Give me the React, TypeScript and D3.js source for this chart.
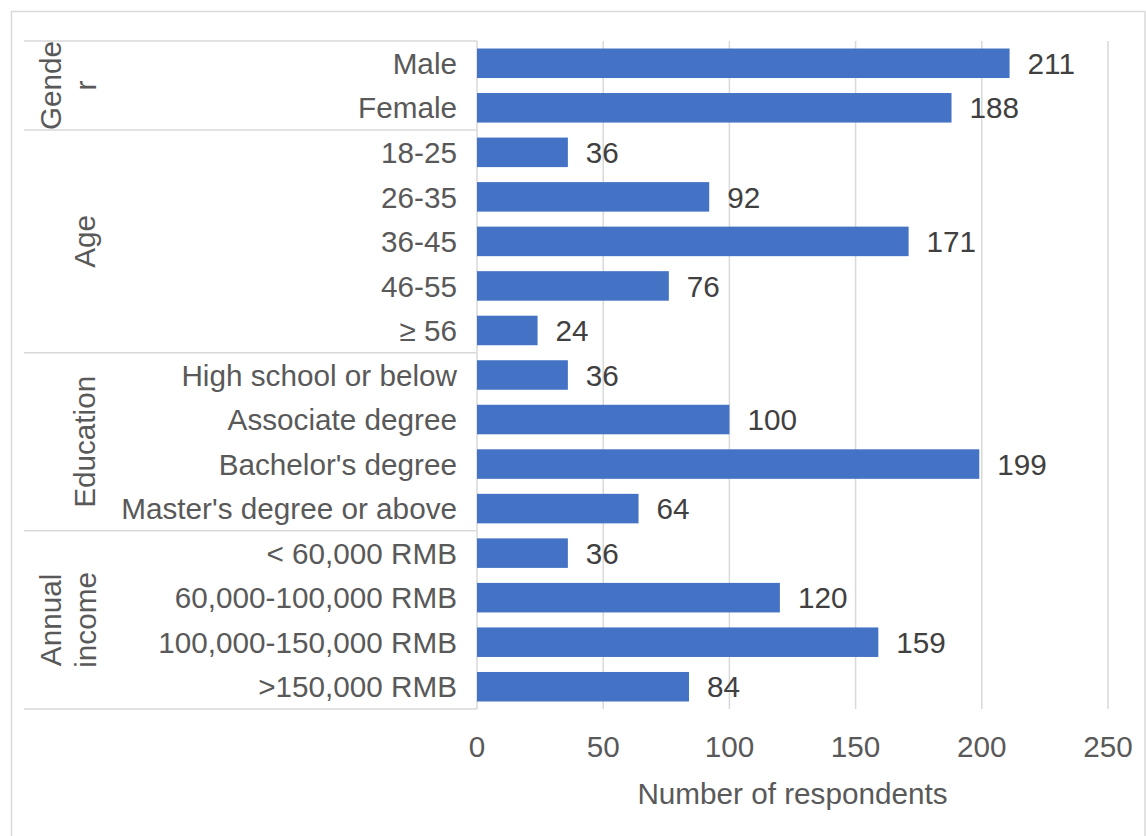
import React from "react";
import * as d3 from "d3";

// Respondent profile, grouped by demographic dimension
const genderLabels = ["Male", "Female"];
const genderValues = [211, 188];

const ageLabels = ["18-25", "26-35", "36-45", "46-55", "≥ 56"];
const ageValues = [36, 92, 171, 76, 24];

const educationLabels = [
  "High school or below",
  "Associate degree",
  "Bachelor's degree",
  "Master's degree or above",
];
const educationValues = [36, 100, 199, 64];

const incomeLabels = [
  "< 60,000 RMB",
  "60,000-100,000 RMB",
  "100,000-150,000 RMB",
  ">150,000 RMB",
];
const incomeValues = [36, 120, 159, 84];

// Group titles (split into the lines they wrap onto)
const groupTitles = [["Gende", "r"], ["Age"], ["Education"], ["Annual", "income"]];

const xTicks = [0, 50, 100, 150, 200, 250];
const xTitle = "Number of respondents";

const groups = [
  { title: groupTitles[0], labels: genderLabels, values: genderValues },
  { title: groupTitles[1], labels: ageLabels, values: ageValues },
  { title: groupTitles[2], labels: educationLabels, values: educationValues },
  { title: groupTitles[3], labels: incomeLabels, values: incomeValues },
];

const rows = groups.flatMap((g, gi) =>
  g.labels.map((label, i) => ({ label, value: g.values[i], group: gi }))
);

const W = 1146;
const H = 836;
const FONT = "'Liberation Sans', Arial, Helvetica, sans-serif";
const FS = 29.7;
const BAR = "#4472C4";
const GRID = "#d9d9d9";
const LABEL = "#595959";
const VALUE = "#404040";

export default function App() {
  const plotLeft = 477;
  const plotRight = 1108;
  const plotTop = 41;
  const plotBottom = 709;
  const tableLeft = 24;

  const x = d3.scaleLinear().domain([0, 250]).range([plotLeft, plotRight]);
  const pad = 0.337;
  const y = d3
    .scaleBand<string>()
    .domain(rows.map((r) => r.label))
    .range([plotTop, plotBottom])
    .paddingInner(pad)
    .paddingOuter(pad / 2);
  const step = y.step();

  // group boundaries (row-edge positions)
  let idx = 0;
  const groupSpans = groups.map((g) => {
    const start = plotTop + idx * step;
    idx += g.labels.length;
    const end = plotTop + idx * step;
    return { ...g, start, end };
  });

  return (
    <svg
      width={W}
      height={H}
      style={{ position: "absolute", left: 0, top: 0, background: "#fff" }}
      fontFamily={FONT}
    >
      <rect x={0} y={0} width={W} height={H} fill="#fff" />
      {/* chart frame */}
      <rect x={11.5} y={11.5} width={1133.5} height={840} fill="none" stroke={GRID} strokeWidth={1.5} />

      {/* vertical gridlines */}
      {xTicks.map((t) => (
        <line
          key={"g" + t}
          x1={x(t)}
          x2={x(t)}
          y1={plotTop}
          y2={plotBottom}
          stroke={GRID}
          strokeWidth={1.5}
        />
      ))}

      {/* category table lines */}
      {groupSpans.map((g, i) => (
        <line
          key={"s" + i}
          x1={tableLeft}
          x2={plotLeft}
          y1={g.start}
          y2={g.start}
          stroke={GRID}
          strokeWidth={1.5}
        />
      ))}
      <line
        x1={tableLeft}
        x2={plotLeft}
        y1={plotBottom}
        y2={plotBottom}
        stroke={GRID}
        strokeWidth={1.5}
      />

      {/* bars */}
      {rows.map((r) => (
        <rect
          key={"b" + r.label}
          x={x(0)}
          y={y(r.label)}
          width={x(r.value) - x(0)}
          height={y.bandwidth()}
          fill={BAR}
        />
      ))}

      {/* value labels */}
      {rows.map((r) => (
        <text
          key={"v" + r.label}
          x={x(r.value) + 18}
          y={(y(r.label) as number) + y.bandwidth() / 2}
          dy="0.36em"
          fontSize={FS}
          fill={VALUE}
        >
          {r.value}
        </text>
      ))}

      {/* category labels */}
      {rows.map((r) => (
        <text
          key={"c" + r.label}
          x={plotLeft - 20}
          y={(y(r.label) as number) + y.bandwidth() / 2}
          dy="0.36em"
          textAnchor="end"
          fontSize={FS}
          fill={LABEL}
        >
          {r.label}
        </text>
      ))}

      {/* group titles, rotated */}
      {groupSpans.map((g, i) => {
        const cy = (g.start + g.end) / 2;
        const baselines = g.title.length === 1 ? [95] : [61, 96];
        return (
          <g key={"t" + i}>
            {g.title.map((line, li) => (
              <text
                key={li}
                transform={`translate(${baselines[li]},${cy}) rotate(-90)`}
                textAnchor="middle"
                fontSize={FS}
                fill={LABEL}
              >
                {line}
              </text>
            ))}
          </g>
        );
      })}

      {/* x tick labels */}
      {xTicks.map((t) => (
        <text
          key={"x" + t}
          x={x(t)}
          y={757}
          textAnchor="middle"
          fontSize={FS}
          fill={LABEL}
        >
          {t}
        </text>
      ))}

      {/* axis title */}
      <text
        x={(plotLeft + plotRight) / 2}
        y={804}
        textAnchor="middle"
        fontSize={FS}
        fill={LABEL}
      >
        {xTitle}
      </text>
    </svg>
  );
}
